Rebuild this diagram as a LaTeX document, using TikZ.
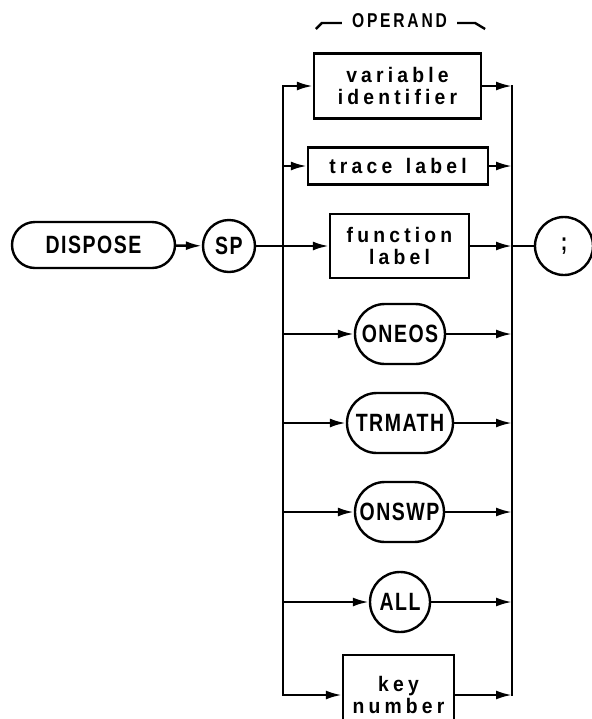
\documentclass[tikz,border=0pt]{standalone}
\usepackage{fontspec}
\usepackage{tikz}
\usetikzlibrary{arrows.meta}
\newfontfamily\capsfont{Liberation Sans}[FakeStretch=0.78,LetterSpace=6]
\newfontfamily\titlefont{Liberation Sans}[FakeStretch=0.78,LetterSpace=14]
\newfontfamily\wordfont{Liberation Sans}[FakeStretch=0.92,LetterSpace=20]

\begin{document}
\begin{tikzpicture}[x=0.5pt,y=-0.5pt,line width=1.2pt,
  every node/.style={draw,line width=1.2pt,inner sep=0pt,align=center},
  capsnode/.style={font=\capsfont\bfseries\fontsize{12.5}{13}\selectfont},
  wordbox/.style={rectangle,font=\wordfont\bfseries\fontsize{10.5}{11}\selectfont},
  pill/.style={capsnode,rectangle,minimum height=30pt,rounded corners=15pt},
  ring/.style={capsnode,circle},
  arr/.style={-{Latex[length=8pt,width=4.5pt]}}]
\useasboundingbox (0,0) rectangle (591,719);
\node[pill,minimum width=81.5pt,minimum height=23pt,rounded corners=11.5pt] (dispose) at (93.5,245) {DISPOSE};
\node[ring,minimum size=26pt] (sp) at (229,246) {SP};
\node[ring,minimum size=29pt] (semi) at (564,246) {;};
\node[draw=none,font=\titlefont\bfseries\fontsize{10}{11}\selectfont] (operand) at (399.5,21) {OPERAND};
\node[wordbox,minimum width=83.5pt,minimum height=32.5pt] (varid) at (397.5,86) {variable\\identifier};
\node[wordbox,minimum width=90pt,minimum height=18.5pt] (trace) at (398,166) {trace\ \hspace{2pt}label};
\node[wordbox,minimum width=69.5pt,minimum height=32pt] (func) at (399.5,246) {function\\label};
\node[pill,minimum width=45pt] (oneos) at (400,334) {ONEOS};
\node[pill,minimum width=53pt] (trmath) at (400,423) {TRMATH};
\node[pill,minimum width=44.5pt] (onswp) at (399.5,512) {ONSWP};
\node[ring,minimum size=30pt] (all) at (400,602) {ALL};
\node[wordbox,minimum width=55.5pt,minimum height=40pt] (keynum) at (398.5,695) {key\\number};
\coordinate (split) at (283,246);
\coordinate (join) at (512,246);
\draw (operand.west) ++(-4.5pt,-1pt) -- ++(-10pt,0) -- ++(-3pt,-3pt);
\draw (operand.east) ++(4.5pt,-1pt) -- ++(9pt,0) -- ++(5pt,-3pt);
\draw[arr] (dispose) -- (sp);
\draw (sp) -- (split);
\draw[line cap=rect] (varid -| split) -- (keynum -| split);
\draw[line cap=rect] (varid -| join) -- (keynum -| join);
\draw (join) -- (semi);
\draw[arr] (varid -| split) -- (varid.west);
\draw[arr] (trace -| split) -- (trace.west);
\draw[arr] (split) -- (func.west);
\draw[arr] (oneos -| split) -- (oneos.west);
\draw[arr] (trmath -| split) -- (trmath.west);
\draw[arr] (onswp -| split) -- (onswp.west);
\draw[arr] (all -| split) -- (all.west);
\draw[arr] (keynum -| split) -- (keynum.west);
\draw[arr] (varid.east) -- (varid -| join);
\draw[arr] (trace.east) -- (trace -| join);
\draw[arr] (func.east) -- (join);
\draw[arr] (oneos.east) -- (oneos -| join);
\draw[arr] (trmath.east) -- (trmath -| join);
\draw[arr] (onswp.east) -- (onswp -| join);
\draw[arr] (all.east) -- (all -| join);
\draw[arr] (keynum.east) -- (keynum -| join);
\end{tikzpicture}
\end{document}
